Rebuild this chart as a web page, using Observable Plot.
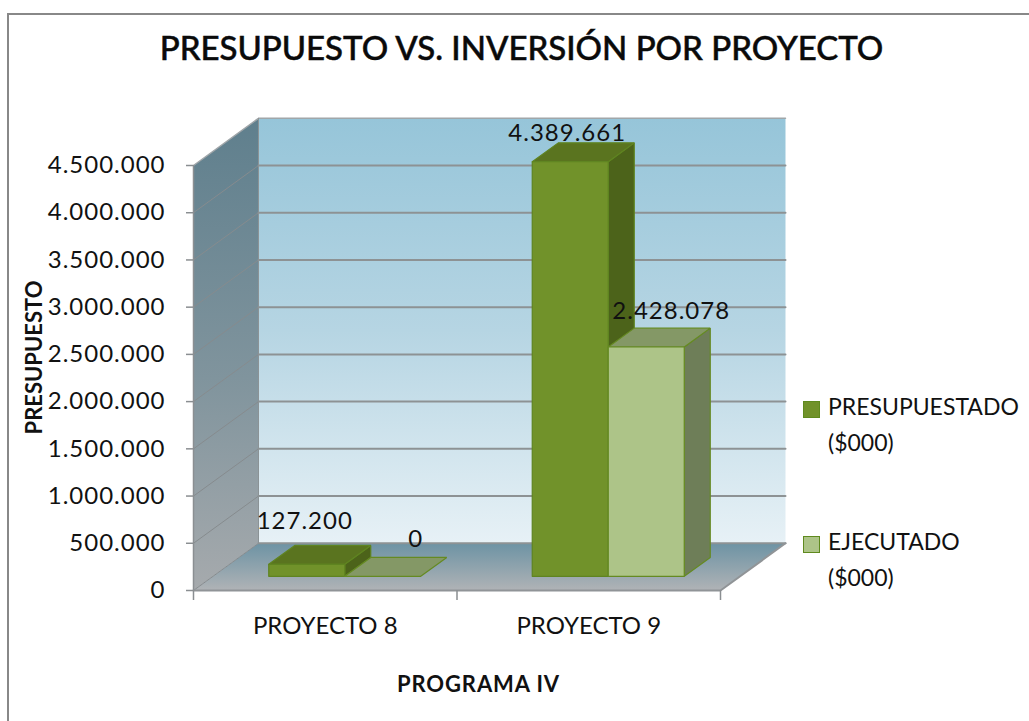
<!DOCTYPE html>
<html><head><meta charset="utf-8">
<script src="https://cdn.jsdelivr.net/npm/d3@7"></script>
<script src="https://cdn.jsdelivr.net/npm/@observablehq/plot@0.6"></script>
<style>
html,body{margin:0;padding:0;background:#fff;width:1029px;height:721px;overflow:hidden;font-family:Lato,"Open Sans",sans-serif;color:#111}
#frame{position:absolute;left:7px;top:13px;right:0;bottom:0;border-left:2.5px solid #888;border-top:2.5px solid #888}
#chart{position:absolute;left:0;top:0}
#title{position:absolute;left:0;top:25px;width:1043px;text-align:center;margin:0;font-size:33px;line-height:44px;font-weight:500;color:#0a0a0a;-webkit-text-stroke:.5px #0a0a0a;white-space:nowrap}
.lg{position:absolute;left:828px;font-size:23px;line-height:36px;letter-spacing:0;white-space:nowrap}
.sw{position:absolute;left:803px;width:14.5px;height:14.5px;border:1.5px solid #5f8a1e}
svg text{font-family:Lato,"Open Sans",sans-serif}
g[aria-label="y-axis tick label"] text{letter-spacing:1px}
</style></head><body>
<div id="frame"></div>
<h1 id="title"></h1>
<div id="chart"></div>
<script>
const titleText = "PRESUPUESTO VS. INVERSIÓN POR PROYECTO";
const categories = ["PROYECTO 8", "PROYECTO 9"];
const presupuestado = [127200, 4389661];
const ejecutado = [0, 2428078];
const yTicks = [0, 500000, 1000000, 1500000, 2000000, 2500000, 3000000, 3500000, 4000000, 4500000];
const yLabel = "PRESUPUESTO";
const xLabel = "PROGRAMA IV";
const legendNames = ["PRESUPUESTADO", "EJECUTADO"];
const legendUnit = "($000)";

const colors = {
  a: {front:"#71922a", top:"#5a741f", side:"#4c631a", edge:"#5f8420"},
  b: {front:"#adc488", top:"#849866", side:"#6e7e58", edge:"#658a22"}
};
const fmt = d3.formatLocale({decimal:",",thousands:".",grouping:[3],currency:["$",""]}).format(",d");

// depth of the 3D box, in data units of the x and y scales
const depthX = 65 / 263.5, depthY = 500000;
const barW = 76 / 263.5, gap = (1 - 2 * barW) / 2;
const barStart = 0.3, barDepth = 0.4;

const poly = (pts, o) => Plot.line([...pts, pts[0]].map(([x,y]) => ({x,y})), {x:"x", y:"y", curve:"linear", strokeLinejoin:"miter", ...o});
const P = (x, y, f) => [x + f * depthX, y + f * depthY];

function bar(i, s, v) {
  const c = s === 0 ? colors.a : colors.b;
  const x0 = i + gap + s * barW, x1 = x0 + barW;
  const f0 = barStart, f1 = barStart + barDepth;
  const so = {stroke:c.edge, strokeWidth:1.2};
  const out = [];
  if (v > 0) out.push(poly([P(x1,0,f0),P(x1,0,f1),P(x1,v,f1),P(x1,v,f0)], {fill:c.side, ...so}));
  out.push(poly([P(x0,v,f0),P(x1,v,f0),P(x1,v,f1),P(x0,v,f1)], {fill:c.top, ...so}));
  if (v > 0) out.push(poly([P(x0,0,f0),P(x1,0,f0),P(x1,v,f0),P(x0,v,f0)], {fill:c.front, ...so}));
  return out;
}
const barFx = (i, s) => i + gap + (s + .5) * barW + barStart * depthX;
const valueLabel = (i, s, v, dx, dy) => Plot.text([v], {
  x: () => barFx(i, s), y: d => d + barStart * depthY, text: d => fmt(d), dx, dy,
  fontSize: 24, fill: "#111"
});
const grid = yTicks.slice(0, -1);

const defs = () => {
  const s = d3.create("svg:defs");
  const g = (id, stops) => {
    const lg = s.append("linearGradient").attr("id", id).attr("x1",0).attr("y1",0).attr("x2",0).attr("y2",1);
    stops.forEach(([o,col]) => lg.append("stop").attr("offset", o).attr("stop-color", col));
  };
  g("wallBack", [[0,"#96c5d9"],[.5,"#b6d5e3"],[1,"#e7f1f6"]]);
  g("wallLeft", [[0,"#5f7f8d"],[.55,"#80949d"],[1,"#a6aaad"]]);
  g("floor", [[0,"#6d93a4"],[1,"#b0b3b6"]]);
  return s.node();
};

const plot = Plot.plot({
  width: 1029, height: 721,
  marginTop: 165, marginBottom: 131, marginLeft: 193, marginRight: 309,
  style: {background:"transparent", color:"#111", overflow:"visible"},
  x: {type:"linear", domain:[0,2]},
  y: {type:"linear", domain:[0,4500000]},
  marks: [
    defs,
    poly([[0,0],[depthX,depthY],[depthX,4500000+depthY],[0,4500000]], {fill:"url(#wallLeft)", stroke:"none"}),
    poly([[depthX,depthY],[2+depthX,depthY],[2+depthX,4500000+depthY],[depthX,4500000+depthY]], {fill:"url(#wallBack)", stroke:"none"}),
    poly([[0,0],[2,0],[2+depthX,depthY],[depthX,depthY]], {fill:"url(#floor)", stroke:"none"}),
    ...grid.map(v => Plot.line([{x:0,y:v},{x:depthX,y:v+depthY}], {x:"x",y:"y",stroke:"#868b8e",strokeWidth:1})),
    ...grid.map(v => Plot.line([{x:depthX,y:v+depthY},{x:2+depthX,y:v+depthY}], {x:"x",y:"y",stroke:"#8d9294",strokeWidth:2})),
    Plot.line([{x:0,y:4500000},{x:depthX,y:4500000+depthY},{x:2+depthX,y:4500000+depthY}], {x:"x",y:"y",stroke:"#a0a6a9",strokeWidth:1.5}),
    Plot.line([{x:depthX,y:depthY},{x:depthX,y:4500000+depthY}], {x:"x",y:"y",stroke:"#8b9396",strokeWidth:1}),
    Plot.line([{x:0,y:0},{x:0,y:4500000}], {x:"x",y:"y",stroke:"#8b8f92",strokeWidth:1.5}),
    Plot.line([{x:0,y:0},{x:2,y:0},{x:2+depthX,y:depthY}], {x:"x",y:"y",stroke:"#909497",strokeWidth:2}),
    valueLabel(1, 0, presupuestado[1], -3, -28),
    ...bar(0, 0, presupuestado[0]),
    ...bar(0, 1, ejecutado[0]),
    ...bar(1, 0, presupuestado[1]),
    ...bar(1, 1, ejecutado[1]),
    valueLabel(1, 1, ejecutado[1], 25, -36),
    valueLabel(0, 0, presupuestado[0], -2, -43),
    valueLabel(0, 1, ejecutado[0], 33, -37),
    Plot.axisY({ticks: yTicks, tickFormat: fmt, tickSize: 7, tickPadding: 21, fontSize: 24, stroke:"#8a8e91", strokeWidth:1.5, label: null}),
    Plot.axisX({ticks: [0,1,2], tickSize: 10, tickFormat: () => "", stroke:"#8a8e91", strokeWidth:1.5, label:null}),
    Plot.axisX({ticks: [.5,1.5], tickSize: 0, tickPadding: 26, tickFormat: d => categories[Math.floor(d)], fontSize: 24, label:null}),
    Plot.text([yLabel], {x: -0.6, y: 2467000, text: d => d, rotate: -90, fontSize: 22, fontWeight: "bold", fill:"#111"}),
    Plot.text([xLabel], {x: 1.0816, y: -995000, text: d => d, fontSize: 22, fontWeight: "bold", fill:"#111"})
  ]
});
document.getElementById("chart").append(plot);
document.getElementById("title").textContent = titleText;

const spacing = t => t === xLabel ? "0.9px" : t === yLabel ? "0" : "1px";
d3.select(plot).selectAll('g[aria-label="text"] text').each(function () {
  this.style.letterSpacing = spacing(this.textContent);
});

const lgRows = [[0,401,388,424],[1,536,523,559]];
lgRows.forEach(([i,sy,t1,t2]) => {
  const c = i === 0 ? colors.a : colors.b;
  const sw = document.createElement("div"); sw.className="sw"; sw.style.top=sy+"px"; sw.style.background=c.front; document.body.append(sw);
  const a = document.createElement("div"); a.className="lg"; a.style.top=t1+"px"; a.textContent=legendNames[i]; document.body.append(a);
  const b = document.createElement("div"); b.className="lg"; b.style.top=t2+"px"; b.textContent=legendUnit; document.body.append(b);
});
</script>
</body></html>
